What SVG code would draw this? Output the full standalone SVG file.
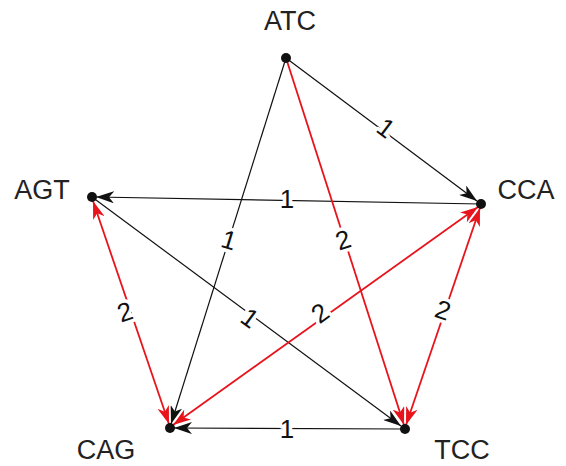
<svg xmlns="http://www.w3.org/2000/svg" width="566" height="466" viewBox="0 0 566 466">
<style>
.nl{font-family:"Liberation Sans",Arial,sans-serif;font-size:27px;fill:#222;text-anchor:middle}
.el{font-family:"Liberation Sans",Arial,sans-serif;font-size:26px;fill:#111;text-anchor:middle;dominant-baseline:central;stroke:#fff;stroke-width:7;paint-order:stroke;stroke-linejoin:round}
.b{stroke:#111;stroke-width:1.2;fill:none}
.r{stroke:#e8141c;stroke-width:1.8;fill:none}
.dot{fill:#111}
</style>
<defs>
<marker id="ab" viewBox="0 0 18 12" refX="18" refY="6" markerWidth="18" markerHeight="12" markerUnits="userSpaceOnUse" orient="auto-start-reverse"><path d="M0,0 L18,6 L0,12 L5,6 Z" fill="#111"/></marker>
<marker id="ar" viewBox="0 0 18 12" refX="18" refY="6" markerWidth="18" markerHeight="12" markerUnits="userSpaceOnUse" orient="auto-start-reverse"><path d="M0,0 L18,6 L0,12 L5,6 Z" fill="#e8141c"/></marker>
</defs>
<g id="connectors">
<line class="b" x1="286" y1="58" x2="477" y2="201" marker-end="url(#ab)"/>
<line class="b" x1="481" y1="204" x2="96" y2="197" marker-end="url(#ab)"/>
<line class="b" x1="286" y1="58" x2="171" y2="424" marker-end="url(#ab)"/>
<line class="b" x1="92" y1="197" x2="401" y2="426" marker-end="url(#ab)"/>
<line class="b" x1="405" y1="429" x2="174" y2="428" marker-end="url(#ab)"/>
<line class="r" x1="286" y1="58" x2="404" y2="425" marker-end="url(#ar)"/>
<line class="r" x1="478" y1="207" x2="173" y2="425" marker-start="url(#ar)" marker-end="url(#ar)"/>
<line class="r" x1="406" y1="425" x2="480" y2="208" marker-start="url(#ar)" marker-end="url(#ar)"/>
<line class="r" x1="169" y1="424" x2="93" y2="201" marker-start="url(#ar)" marker-end="url(#ar)"/>
<text class="el" transform="translate(386,128) rotate(37)">1</text>
<text class="el" x="287" y="199">1</text>
<text class="el" transform="translate(229,240) rotate(17)">1</text>
<text class="el" transform="translate(343,240) rotate(-18)">2</text>
<text class="el" transform="translate(250,318) rotate(36)">1</text>
<text class="el" transform="translate(320,313) rotate(-36)">2</text>
<text class="el" transform="translate(443,310) rotate(19)">2</text>
<text class="el" transform="translate(125,312) rotate(-19)">2</text>
<text class="el" x="287" y="429">1</text>
</g>
<g id="ATC"><circle class="dot" cx="286" cy="58" r="5"/><text class="nl" x="290" y="30">ATC</text></g>
<g id="AGT"><circle class="dot" cx="92" cy="197" r="5"/><text class="nl" x="42" y="199">AGT</text></g>
<g id="CCA"><circle class="dot" cx="481" cy="204" r="5"/><text class="nl" x="526" y="199">CCA</text></g>
<g id="CAG"><circle class="dot" cx="170" cy="428" r="5"/><text class="nl" x="106" y="459">CAG</text></g>
<g id="TCC"><circle class="dot" cx="405" cy="429" r="5"/><text class="nl" x="462" y="459">TCC</text></g>
</svg>
